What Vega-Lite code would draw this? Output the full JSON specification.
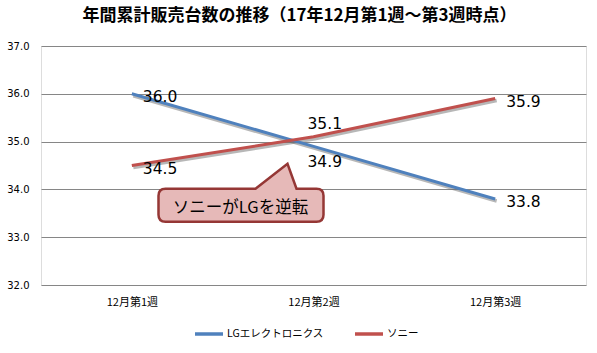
{
  "$schema": "https://vega.github.io/schema/vega-lite/v6.json",
  "width": 545,
  "height": 239,
  "autosize": "none",
  "padding": {"left": 41, "top": 46, "right": 11, "bottom": 68},
  "background": "white",
  "title": {
    "text": "年間累計販売台数の推移（17年12月第1週～第3週時点）",
    "font": "Noto Sans CJK JP",
    "fontSize": 17,
    "fontWeight": "bold",
    "color": "#000000",
    "anchor": "middle",
    "baseline": "middle",
    "offset": 8,
    "dx": -14
  },
  "datasets": {
    "sales": [
      {"week": "12月第1週", "maker": "LGエレクトロニクス", "value": 36.0},
      {"week": "12月第2週", "maker": "LGエレクトロニクス", "value": 34.9},
      {"week": "12月第3週", "maker": "LGエレクトロニクス", "value": 33.8},
      {"week": "12月第1週", "maker": "ソニー", "value": 34.5},
      {"week": "12月第2週", "maker": "ソニー", "value": 35.1},
      {"week": "12月第3週", "maker": "ソニー", "value": 35.9}
    ],
    "note": [
      {"week": "12月第2週", "value": 33.7, "note": "ソニーがLGを逆転"}
    ]
  },
  "encoding": {
    "x": {
      "field": "week",
      "type": "ordinal",
      "scale": {"type": "point", "padding": 0.5},
      "axis": {
        "title": null,
        "labelAngle": 0,
        "labelFont": "Noto Sans CJK JP",
        "labelFontSize": 11,
        "labelColor": "#000000",
        "labelPadding": 11,
        "ticks": false,
        "tickSize": 0,
        "domain": false,
        "grid": false
      }
    },
    "y": {
      "field": "value",
      "type": "quantitative",
      "scale": {"domain": [32, 37], "nice": false, "zero": false},
      "axis": {
        "title": null,
        "values": [32, 33, 34, 35, 36, 37],
        "format": ".1f",
        "labelFont": "DejaVu Sans",
        "labelFontSize": 10,
        "labelColor": "#000000",
        "labelPadding": 12,
        "ticks": false,
        "tickSize": 0,
        "domain": false,
        "grid": true,
        "gridColor": "#868686",
        "gridWidth": 1
      }
    }
  },
  "layer": [
    {
      "data": {"name": "sales"},
      "mark": {"type": "line", "strokeWidth": 3.5, "color": "#6f6f6f", "opacity": 0.5, "xOffset": 1.5, "yOffset": 2},
      "encoding": {"detail": {"field": "maker"}}
    },
    {
      "data": {"name": "sales"},
      "mark": {"type": "line", "strokeWidth": 3},
      "encoding": {
        "color": {
          "field": "maker",
          "type": "nominal",
          "scale": {"domain": ["LGエレクトロニクス", "ソニー"], "range": ["#4F81BD", "#C0504D"]},
          "legend": {
            "title": null,
            "orient": "none",
            "direction": "horizontal",
            "legendX": 152,
            "legendY": 272,
            "symbolType": "stroke",
            "symbolSize": 784,
            "symbolStrokeWidth": 3.5,
            "labelFont": "Noto Sans CJK JP",
            "labelFontSize": 10.5,
            "labelColor": "#000000",
            "labelOffset": 2,
            "columnPadding": 24,
            "padding": 0
          }
        }
      }
    },
    {
      "data": {"name": "sales"},
      "transform": [{"filter": "datum.week !== '12月第2週'"}],
      "mark": {"type": "text", "align": "left", "baseline": "middle", "dx": 11, "dy": 3, "font": "DejaVu Sans", "fontSize": 15.5, "color": "#000000"},
      "encoding": {"text": {"field": "value", "type": "quantitative", "format": ".1f"}}
    },
    {
      "data": {"name": "sales"},
      "transform": [{"filter": "datum.week === '12月第2週' && datum.maker === 'ソニー'"}],
      "mark": {"type": "text", "align": "left", "baseline": "middle", "dx": -6, "dy": -13, "font": "DejaVu Sans", "fontSize": 15.5, "color": "#000000"},
      "encoding": {"text": {"field": "value", "type": "quantitative", "format": ".1f"}}
    },
    {
      "data": {"name": "sales"},
      "transform": [{"filter": "datum.week === '12月第2週' && datum.maker === 'LGエレクトロニクス'"}],
      "mark": {"type": "text", "align": "left", "baseline": "middle", "dx": -6, "dy": 16, "font": "DejaVu Sans", "fontSize": 15.5, "color": "#000000"},
      "encoding": {"text": {"field": "value", "type": "quantitative", "format": ".1f"}}
    },
    {
      "data": {"name": "note"},
      "mark": {
        "type": "point",
        "filled": true,
        "size": 4,
        "shape": "M -148 -15 L -58 -15 L -26 -40 L -17 -15 L 3 -15 Q 10 -15 10 -8 L 10 11 Q 10 18 3 18 L -148 18 Q -155 18 -155 11 L -155 -8 Q -155 -15 -148 -15 Z",
        "fill": "#E6B9B8",
        "stroke": "#953735",
        "strokeWidth": 2.5,
        "opacity": 1
      }
    },
    {
      "data": {"name": "note"},
      "mark": {"type": "text", "align": "center", "baseline": "middle", "dx": -73, "dy": 4, "font": "Noto Sans CJK JP", "fontSize": 16.5, "color": "#000000"},
      "encoding": {"text": {"field": "note"}}
    }
  ]
}
